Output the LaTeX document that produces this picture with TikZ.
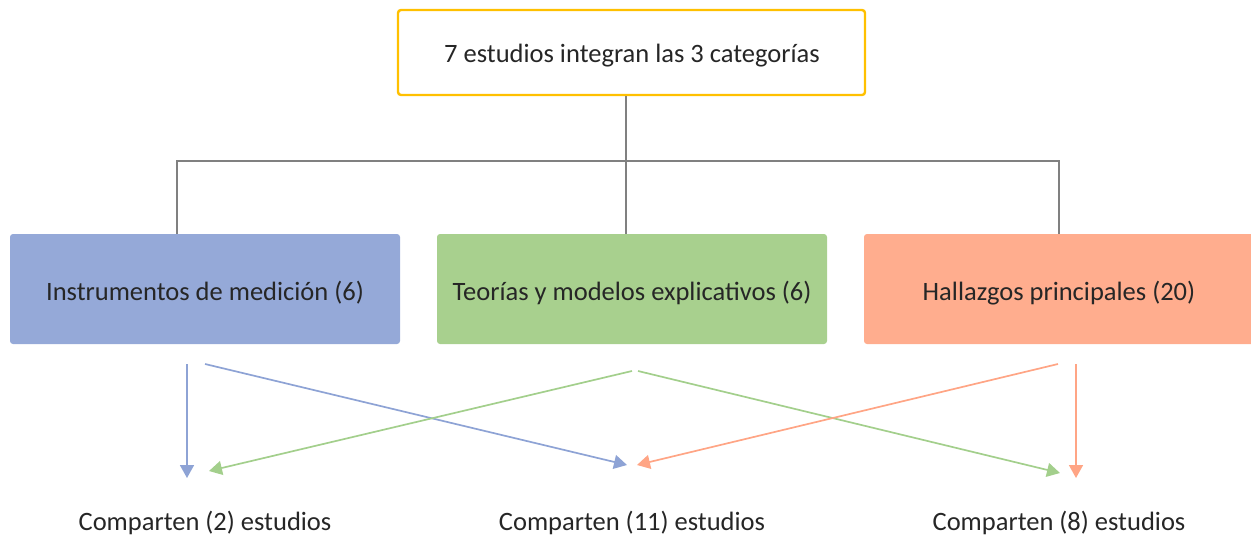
\documentclass[tikz,border=0pt]{standalone}
\usepackage{fontspec}
\setmainfont{Carlito}
\usetikzlibrary{arrows.meta}
\definecolor{cyellow}{HTML}{FFC000}
\definecolor{cblue}{HTML}{95A9D8}
\definecolor{cgreen}{HTML}{A8D08E}
\definecolor{csalmon}{HTML}{FFAD8E}
\definecolor{cgray}{HTML}{808080}
\definecolor{ablue}{HTML}{8EA3D5}
\definecolor{agreen}{HTML}{A3CF8C}
\definecolor{asalmon}{HTML}{FFA585}
\definecolor{ctext}{HTML}{262626}
\tikzset{
  tfont/.style={font=\fontsize{26.5}{30}\selectfont},
  topbox/.style={draw=cyellow, line width=2.4pt, fill=white, rounded corners=3pt,
    minimum width=467pt, minimum height=85pt, inner sep=0pt},
  catbox/.style={rounded corners=3pt, minimum width=390pt, minimum height=110pt, inner sep=0pt},
  lbl/.style={text=ctext, inner sep=0pt, tfont, anchor=base},
  tree/.style={draw=cgray, line width=1.2pt},
  arr/.style={line width=1.7pt, -{Triangle[length=13pt,width=14pt]}},
}
\begin{document}
\begin{tikzpicture}[x=1pt,y=-1pt]
\useasboundingbox (0,0) rectangle (1251,536);
\node[topbox] (top) at (631.5,52.5) {};
\node[catbox, fill=cblue] (c1) at (205,289) {};
\node[catbox, fill=cgreen] (c2) at (632,289) {};
\begin{scope}
\clip (0,0) rectangle (1251,536);
\node[catbox, fill=csalmon, minimum width=394pt] (c3) at (1061,289) {};
\end{scope}
\node[lbl] (t0) at (632,62) {7 estudios integran las 3 categorías};
\node[lbl] (t1) at (205,300) {Instrumentos de medición (6)};
\node[lbl] (t2) at (632,300) {Teorías y modelos explicativos (6)};
\node[lbl] (t3) at (1059,300) {Hallazgos principales (20)};
% tree connectors
\coordinate (j) at (626,161);
\draw[tree] (top.south -| j) -- (j);
\draw[tree] (c1.north -| 177,0) |- (j) -| (c3.north -| 1059,0);
\draw[tree] (j) -- (c2.north -| j);
% labels
\node[lbl] (l1) at (205,530) {Comparten (2) estudios};
\node[lbl] (l2) at (632,530) {Comparten (11) estudios};
\node[lbl] (l3) at (1059,530) {Comparten (8) estudios};
% arrow endpoints
\coordinate (b1s) at (187,364); \coordinate (b1e) at (187,478);
\coordinate (b2s) at (205,364); \coordinate (b2e) at (627,465);
\coordinate (g1s) at (632,371); \coordinate (g1e) at (209,471);
\coordinate (g2s) at (638,371); \coordinate (g2e) at (1060,473);
\coordinate (s1s) at (1058,364); \coordinate (s1e) at (637,465);
\coordinate (s2s) at (1076,364); \coordinate (s2e) at (1076,478);
\draw[arr, draw=ablue, fill=ablue] (b1s) -- (b1e);
\draw[arr, draw=ablue, fill=ablue] (b2s) -- (b2e);
\draw[arr, draw=agreen, fill=agreen] (g1s) -- (g1e);
\draw[arr, draw=agreen, fill=agreen] (g2s) -- (g2e);
\draw[arr, draw=asalmon, fill=asalmon] (s1s) -- (s1e);
\draw[arr, draw=asalmon, fill=asalmon] (s2s) -- (s2e);
\end{tikzpicture}
\end{document}
